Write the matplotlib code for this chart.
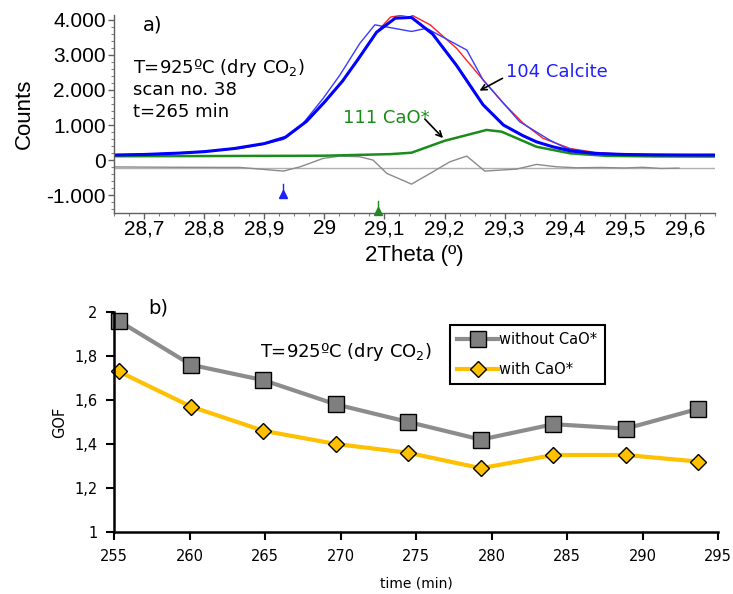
import matplotlib
matplotlib.use('Agg')
import matplotlib.pyplot as plt
from matplotlib.ticker import MultipleLocator, FuncFormatter
import numpy as np

# ---- panel a) : Rietveld-type fit around 29 deg 2Theta ----
x_obs = [28.65, 28.70, 28.76, 28.80, 28.86, 28.90, 28.932, 28.96, 28.998, 29.026, 29.059, 29.084,
         29.145, 29.170, 29.237, 29.264, 29.325, 29.375, 29.403, 29.45, 29.50, 29.55, 29.60, 29.65]
obs = [150, 165, 210, 250, 333, 460, 590, 950, 1760, 2430, 3330, 3860,
       3670, 3760, 3140, 2290, 1095, 570, 333, 200, 160, 145, 140, 140]

x_calc = [28.65, 28.70, 28.76, 28.80, 28.85, 28.90, 28.935, 28.97, 29.00, 29.03, 29.055, 29.087, 29.11,
          29.142, 29.176, 29.22, 29.264, 29.298, 29.331, 29.364, 29.409, 29.45, 29.50, 29.55, 29.60, 29.65]
calc = [145, 160, 200, 240, 330, 470, 650, 1100, 1650, 2250, 2850, 3650, 4080,
        4170, 3860, 3190, 2290, 1620, 1050, 620, 330, 220, 165, 150, 145, 145]

x_calcite = [28.65, 28.70, 28.76, 28.80, 28.85, 28.90, 28.935, 28.97, 29.00, 29.03, 29.055, 29.087, 29.118,
             29.145, 29.18, 29.22, 29.264, 29.298, 29.33, 29.353, 29.38, 29.41, 29.45, 29.50, 29.55, 29.60, 29.65]
calcite = [145, 160, 200, 240, 330, 470, 650, 1100, 1650, 2250, 2850, 3650, 4050,
           4070, 3600, 2700, 1580, 1000, 700, 520, 380, 260, 190, 160, 150, 145, 145]

x_cao = [28.65, 28.80, 29.00, 29.11, 29.145, 29.20, 29.27, 29.295, 29.353, 29.41, 29.47, 29.55, 29.65]
cao = [110, 115, 125, 170, 210, 550, 860, 810, 380, 190, 120, 105, 100]

x_diff = [28.65, 28.75, 28.86, 28.932, 28.96, 28.998, 29.026, 29.059, 29.081, 29.104, 29.145, 29.176,
          29.209, 29.237, 29.267, 29.32, 29.353, 29.386, 29.42, 29.46, 29.50, 29.53, 29.56, 29.59]
diff = [-195, -205, -210, -314, -190, 48, 114, 95, 0, -381, -686, -381,
        -48, 114, -314, -257, -124, -190, -220, -210, -225, -205, -240, -230]
diff_zero = -225

hkl_pos = [28.931, 29.089]
hkl_level = [-960, -1440]
hkl_colors = ['#1f1fff', '#1a8c1a']

# ---- panel b) : GOF vs time ----
time_min = [255.3, 260.1, 264.9, 269.7, 274.5, 279.3, 284.1, 288.9, 293.7]
gof_without = [1.96, 1.76, 1.69, 1.58, 1.50, 1.42, 1.49, 1.47, 1.56]
gof_with = [1.73, 1.57, 1.46, 1.40, 1.36, 1.29, 1.35, 1.35, 1.32]

fig = plt.figure(figsize=(7.33, 5.94), dpi=100)

# ================= a) =================
ax = fig.add_axes([114/733, 1-213/594, 601/733, 198/594])
ax.plot([28.65, 29.65], [diff_zero, diff_zero], color='#b0b0b0', lw=1.0)
ax.plot(x_diff, diff, color='#8a8a8a', lw=1.0)
ax.plot(x_cao, cao, color='#1a8c1a', lw=1.8)
ax.plot(x_calc, calc, color='#ff2020', lw=1.0)
ax.plot(x_obs, obs, color='#3a3aff', lw=1.0)
ax.plot(x_calcite, calcite, color='#0000ff', lw=2.2)
for xp, yl, c in zip(hkl_pos, hkl_level, hkl_colors):
    ax.plot([xp, xp], [yl, yl + 280], color=c, lw=1.0, clip_on=False)
    ax.plot([xp], [yl], marker='^', ms=6, color=c, clip_on=False)

ax.set_xlim(28.65, 29.65)
ax.set_ylim(-1510, 4140)
for s in ['top', 'right']:
    ax.spines[s].set_visible(False)
for s in ['left', 'bottom']:
    ax.spines[s].set_color('#606060')
    ax.spines[s].set_linewidth(1.0)
ax.xaxis.set_major_locator(MultipleLocator(0.1))
ax.xaxis.set_minor_locator(MultipleLocator(0.025))
ax.yaxis.set_major_locator(MultipleLocator(1000))
ax.yaxis.set_minor_locator(MultipleLocator(200))
ax.xaxis.set_major_formatter(FuncFormatter(lambda v, p: ('%g' % round(v, 2)).replace('.', ',')))
ax.yaxis.set_major_formatter(FuncFormatter(lambda v, p: ('{:,.0f}'.format(v)).replace(',', '.')))
ax.tick_params(which='major', length=4, width=1, color='#606060', pad=2,
               labelsize=15, labelfontfamily='Liberation Sans')
ax.tick_params(axis='x', which='major', pad=0.5)
ax.tick_params(which='minor', length=2.5, width=0.8, color='#808080')
ax.set_ylabel('Counts', family='Liberation Sans', fontsize=16, labelpad=8)
ax.set_xlabel('2Theta (º)', family='Liberation Sans', fontsize=16, labelpad=5)

ax.text(28.698, 3857, 'a)', fontsize=14, va='center', ha='left')
ax.text(28.682, 2629, 'T=925ºC (dry CO$_2$)', fontsize=13, va='center', ha='left')
ax.text(28.682, 2000, 'scan no. 38', fontsize=13, va='center', ha='left')
ax.text(28.682, 1371, 't=265 min', fontsize=13, va='center', ha='left')
ax.text(29.302, 2514, '104 Calcite', fontsize=13, color='#2020ff', va='center', ha='left')
ax.text(29.031, 1200, '111 CaO*', fontsize=13, color='#1a8c1a', va='center', ha='left')
ax.annotate('', xy=(29.254, 1943), xytext=(29.3005, 2371),
            arrowprops=dict(arrowstyle='->', color='black', lw=1.2))
ax.annotate('', xy=(29.2007, 571), xytext=(29.164, 1229),
            arrowprops=dict(arrowstyle='->', color='black', lw=1.2))

# ================= b) =================
bx = fig.add_axes([114/733, 1-532/594, 604/733, 220/594])
bx.plot(time_min, gof_without, color='#8c8c8c', lw=3, marker='s', ms=11,
        mfc='#7f7f7f', mec='black', mew=1.0, label='without CaO*', clip_on=False)
bx.plot(time_min, gof_with, color='#ffc000', lw=3, marker='D', ms=8,
        mfc='#ffc000', mec='black', mew=1.0, label='with CaO*', clip_on=False)
bx.set_xlim(255, 295)
bx.set_ylim(1, 2)
bx.xaxis.set_major_locator(MultipleLocator(5))
bx.yaxis.set_major_locator(MultipleLocator(0.2))
bx.yaxis.set_major_formatter(FuncFormatter(lambda v, p: ('%g' % round(v, 2)).replace('.', ',')))
for s in ['top', 'right']:
    bx.spines[s].set_visible(False)
for s in ['left', 'bottom']:
    bx.spines[s].set_linewidth(1.8)
bx.tick_params(length=6, width=1.5, labelsize=10.5, pad=6)
bx.set_ylabel('GOF', fontsize=10.5, labelpad=5)
bx.set_xlabel('time (min)', fontsize=10, labelpad=9)
bx.text(257.25, 2.018, 'b)', fontsize=14, va='center', ha='left')
bx.text(264.67, 1.818, 'T=925ºC (dry CO$_2$)', fontsize=13, va='center', ha='left')
leg = bx.legend(loc='upper left', bbox_to_anchor=(0.556, 0.941), fontsize=10.5,
                frameon=True, fancybox=False, edgecolor='black', framealpha=1,
                handlelength=2.8, handletextpad=0.1, labelspacing=1.0,
                borderaxespad=0, borderpad=0.5)
leg.get_frame().set_linewidth(1.5)

fig.savefig('out.png', dpi=100)
